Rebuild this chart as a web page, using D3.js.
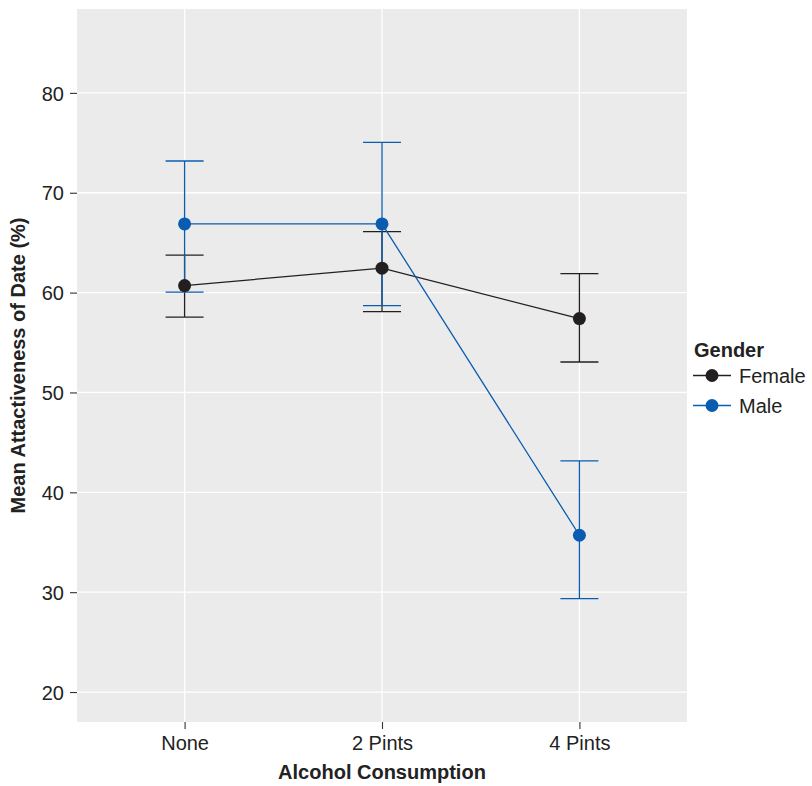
<!DOCTYPE html>
<html><head><meta charset="utf-8">
<script src="https://cdn.jsdelivr.net/npm/d3@7"></script>
<style>body{margin:0;background:#fff;} text{font-family:"Liberation Sans",Arial,Helvetica,sans-serif;}</style>
</head><body>
<svg id="c" width="812" height="786"></svg>
<script>
const categories = ["None", "2 Pints", "4 Pints"];
const groups = ["Female", "Male"];
const colors = ["#231f20", "#0a5cb0"];
const femaleMean = [60.7, 62.45, 57.4];
const femaleLow  = [57.55, 58.1, 53.05];
const femaleHigh = [63.75, 66.1, 61.9];
const maleMean = [66.88, 66.88, 35.7];
const maleLow  = [60.04, 58.7, 29.35];
const maleHigh = [73.18, 75.05, 43.15];
const yTicks = [20, 30, 40, 50, 60, 70, 80];

const series = [
  {name: groups[0], color: colors[0], mean: femaleMean, low: femaleLow, high: femaleHigh},
  {name: groups[1], color: colors[1], mean: maleMean, low: maleLow, high: maleHigh}
];

const FS = "20px";
const svg = d3.select("#c");
const L = 77, R = 687, T = 9, B = 722;
const x = d3.scalePoint().domain(categories).range([L, R]).padding(0.545);
const y = d3.scaleLinear().domain([17.0, 88.4]).range([B, T]);

svg.append("rect").attr("x", L).attr("y", T).attr("width", R - L).attr("height", B - T).attr("fill", "#ebebeb");
// grid
svg.append("g").selectAll("line").data(yTicks).join("line")
  .attr("x1", L).attr("x2", R).attr("y1", d => y(d)).attr("y2", d => y(d))
  .attr("stroke", "#fff").attr("stroke-width", 1.3);
svg.append("g").selectAll("line").data(categories).join("line")
  .attr("y1", T).attr("y2", B).attr("x1", d => x(d)).attr("x2", d => x(d))
  .attr("stroke", "#fff").attr("stroke-width", 1.3);

// axes
const yAxis = d3.axisLeft(y).tickValues(yTicks).tickSize(7).tickPadding(6);
const gy = svg.append("g").attr("transform", `translate(${L},0)`).call(yAxis);
gy.select(".domain").remove();
gy.selectAll(".tick line").attr("stroke", "#333").attr("stroke-width", 1.1);
gy.selectAll(".tick text").attr("fill", "#222").style("font-size", FS).attr("dy", "0.36em");

const xAxis = d3.axisBottom(x).tickSize(7).tickPadding(6);
const gx = svg.append("g").attr("transform", `translate(0,${B})`).call(xAxis);
gx.select(".domain").remove();
gx.selectAll(".tick line").attr("stroke", "#333").attr("stroke-width", 1.1);
gx.selectAll(".tick text").attr("fill", "#222").style("font-size", FS).attr("dy", "0.75em");

// titles
svg.append("text").attr("x", (L + R) / 2).attr("y", 779).attr("text-anchor", "middle")
  .attr("fill", "#222").style("font-size", FS).style("font-weight", "bold").text("Alcohol Consumption");
svg.append("text").attr("transform", `translate(25,${(T + B) / 2}) rotate(-90)`).attr("text-anchor", "middle")
  .attr("fill", "#222").style("font-size", FS).style("font-weight", "bold").text("Mean Attactiveness of Date (%)");

// error bars
const capW = 19;
series.forEach(s => {
  const g = svg.append("g").attr("stroke", s.color).attr("stroke-width", 1.3).attr("fill", "none");
  categories.forEach((c, i) => {
    const cx = x(c);
    g.append("line").attr("x1", cx).attr("x2", cx).attr("y1", y(s.low[i])).attr("y2", y(s.high[i]));
    g.append("line").attr("x1", cx - capW).attr("x2", cx + capW).attr("y1", y(s.low[i])).attr("y2", y(s.low[i]));
    g.append("line").attr("x1", cx - capW).attr("x2", cx + capW).attr("y1", y(s.high[i])).attr("y2", y(s.high[i]));
  });
});
// lines
series.forEach(s => {
  svg.append("path").datum(categories.map((c, i) => [x(c), y(s.mean[i])]))
    .attr("d", d3.line()).attr("fill", "none").attr("stroke", s.color).attr("stroke-width", 1.3);
});
// points
series.forEach(s => {
  svg.append("g").selectAll("circle").data(categories).join("circle")
    .attr("cx", d => x(d)).attr("cy", (d, i) => y(s.mean[i])).attr("r", 6.5).attr("fill", s.color);
});

// legend
svg.append("text").attr("x", 694).attr("y", 357).attr("fill", "#222").style("font-size", FS).style("font-weight", "bold").text("Gender");
series.forEach((s, i) => {
  const ly = 375.5 + i * 30;
  svg.append("line").attr("x1", 693).attr("x2", 731).attr("y1", ly).attr("y2", ly).attr("stroke", s.color).attr("stroke-width", 1.3);
  svg.append("circle").attr("cx", 712).attr("cy", ly).attr("r", 6.5).attr("fill", s.color);
  svg.append("text").attr("x", 739).attr("y", ly).attr("dy", "0.36em").attr("fill", "#222").style("font-size", FS).text(s.name);
});
</script>
</body></html>
